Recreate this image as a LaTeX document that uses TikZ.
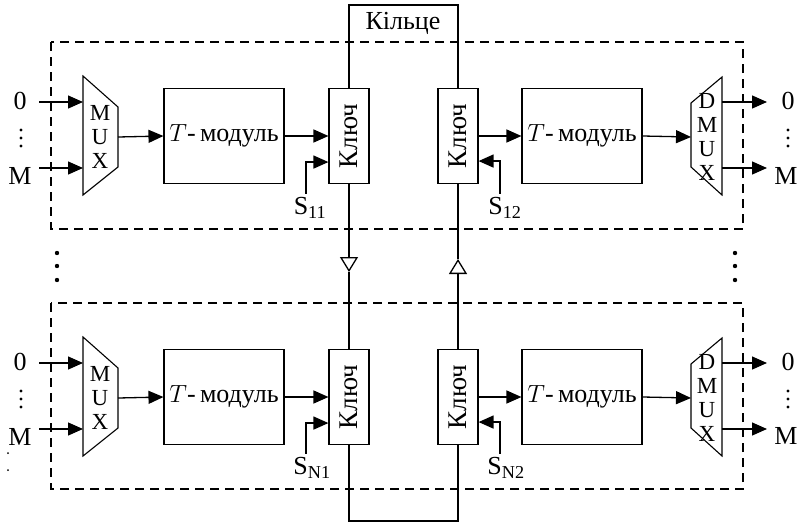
\documentclass[tikz,border=0pt]{standalone}
\usepackage{fontspec}
\setmainfont{Liberation Serif}
\usepackage{graphicx}
\usetikzlibrary{arrows.meta}
\begin{document}
\begin{tikzpicture}[x=1pt,y=-1pt,line width=1.1pt,
  font=\fontsize{26}{28}\selectfont,
  module/.style={draw, inner sep=0pt, minimum width=120pt, minimum height=95pt},
  keybox/.style={draw, inner sep=0pt, minimum width=40pt, minimum height=95pt, font=\fontsize{27}{28}\selectfont},
  frame/.style={dash pattern=on 9pt off 6pt},
  arr/.style={-{Triangle[length=15pt,width=13pt]}, line width=1.3pt},
  ringarr/.style={-{Triangle[open,length=15pt,width=18pt]}, line width=1.3pt},
  muxtext/.style={align=center, font=\fontsize{23}{24}\selectfont, inner sep=0pt}]
\useasboundingbox (0,0) rectangle (798,525);

% frames
\draw[frame] (51,42) rectangle (743,229);
\draw[frame] (51,303) rectangle (743,489);

% upper row
\node[muxtext] (muxa) at (100,137) {M\\U\\X};
\draw (83,76) -- (118,107) -- (118,167) -- (83,195) -- cycle;
\coordinate (muxa0) at (83,102);
\coordinate (muxaM) at (83,168);
\coordinate (muxaout) at (118,137);
\node (ina0) at (20,101) {0};
\node (inaM) at (20,176) {M};
\fill (21,130) circle (1.6pt) (21,138) circle (1.6pt) (21,146) circle (1.6pt);
\coordinate (ina0s) at (39,102);
\coordinate (inaMs) at (39,168);
\node[module] (tmoda) at (224,136) {$T$-\,модуль};
\node[keybox] (keya1) at (349,136) {\rotatebox{90}{Ключ}};
\node[keybox] (keya2) at (458,136) {\rotatebox{90}{Ключ}};
\node[module] (tmodb) at (582,136) {$T$-\,модуль};
\node[muxtext] (dmuxa) at (707,137) {D\\M\\U\\X};
\draw (691,103) -- (722,77) -- (722,195) -- (691,167) -- cycle;
\coordinate (dmuxain) at (691,137);
\coordinate (dmuxa0) at (722,102);
\coordinate (dmuxaM) at (722,168);
\coordinate (outa0) at (767,102);
\coordinate (outaM) at (767,168);
\node (outa0l) at (788,101) {0};
\node (outaMl) at (786,176) {M};
\fill (788,130) circle (1.6pt) (788,138) circle (1.6pt) (788,146) circle (1.6pt);
\node (s11) at (310,208) {S\textsubscript{11}};
\node (s12) at (505,208) {S\textsubscript{12}};

\draw[arr] (ina0s) -- (muxa0);
\draw[arr] (inaMs) -- (muxaM);
\draw[arr] (muxaout) -- (tmoda.west);
\draw[arr] (tmoda.east) -- (keya1.west);
\draw[arr] ([xshift=-4pt]s11.north) |- ([yshift=22pt]keya1.south west);
\draw[arr] (keya2.east) -- (tmodb.west);
\draw[arr] ([xshift=-5pt]s12.north) |- ([yshift=23pt]keya2.south east);
\draw[arr] (tmodb.east) -- (dmuxain);
\draw[arr] (dmuxa0) -- (outa0);
\draw[arr] (dmuxaM) -- (outaM);

% dots between rows
\fill (57,253) circle (2.2pt) (57,266) circle (2.2pt) (57,280) circle (2.2pt);
\fill (735,253) circle (2.2pt) (735,266) circle (2.2pt) (735,280) circle (2.2pt);

% lower row
\node[muxtext] (muxn) at (100,398) {M\\U\\X};
\draw (83,337) -- (118,368) -- (118,428) -- (83,456) -- cycle;
\coordinate (muxn0) at (83,363);
\coordinate (muxnM) at (83,429);
\coordinate (muxnout) at (118,398);
\node (inn0) at (20,362) {0};
\node (innM) at (20,437) {M};
\fill (21,391) circle (1.6pt) (21,399) circle (1.6pt) (21,407) circle (1.6pt);
\fill (8,453) circle (1pt) (8,470) circle (1pt);
\coordinate (inn0s) at (39,363);
\coordinate (innMs) at (39,429);
\node[module] (tmodc) at (224,397) {$T$-\,модуль};
\node[keybox] (keyn1) at (349,397) {\rotatebox{90}{Ключ}};
\node[keybox] (keyn2) at (458,397) {\rotatebox{90}{Ключ}};
\node[module] (tmodd) at (582,397) {$T$-\,модуль};
\node[muxtext] (dmuxn) at (707,398) {D\\M\\U\\X};
\draw (691,364) -- (722,338) -- (722,456) -- (691,428) -- cycle;
\coordinate (dmuxnin) at (691,398);
\coordinate (dmuxn0) at (722,363);
\coordinate (dmuxnM) at (722,429);
\coordinate (outn0) at (767,363);
\coordinate (outnM) at (767,429);
\node (outn0l) at (788,362) {0};
\node (outnMl) at (786,436) {M};
\fill (788,391) circle (1.6pt) (788,399) circle (1.6pt) (788,407) circle (1.6pt);
\node (sn1) at (312,468) {S\textsubscript{N1}};
\node (sn2) at (506,468) {S\textsubscript{N2}};

\draw[arr] (inn0s) -- (muxn0);
\draw[arr] (innMs) -- (muxnM);
\draw[arr] (muxnout) -- (tmodc.west);
\draw[arr] (tmodc.east) -- (keyn1.west);
\draw[arr] ([xshift=-6pt]sn1.north) |- ([yshift=22pt]keyn1.south west);
\draw[arr] (keyn2.east) -- (tmodd.west);
\draw[arr] ([xshift=-6pt]sn2.north) |- ([yshift=23pt]keyn2.south east);
\draw[arr] (tmodd.east) -- (dmuxnin);
\draw[arr] (dmuxn0) -- (outn0);
\draw[arr] (dmuxnM) -- (outnM);

% ring
\node (ring) at (403,23) {Кільце};
\coordinate (ringtop) at (403,5);
\coordinate (ringbot) at (403,521);
\coordinate (dnmark) at (349,272);
\coordinate (upmark) at (458,259);
\draw (keya1.north) |- (ringtop) -| (keya2.north);
\draw (keyn1.south) |- (ringbot) -| (keyn2.south);
\draw[ringarr] (keya1.south) -- (dnmark);
\draw (dnmark) -- (keyn1.north);
\draw[ringarr] (keyn2.north) -- (upmark);
\draw (upmark) -- (keya2.south);
\end{tikzpicture}
\end{document}
